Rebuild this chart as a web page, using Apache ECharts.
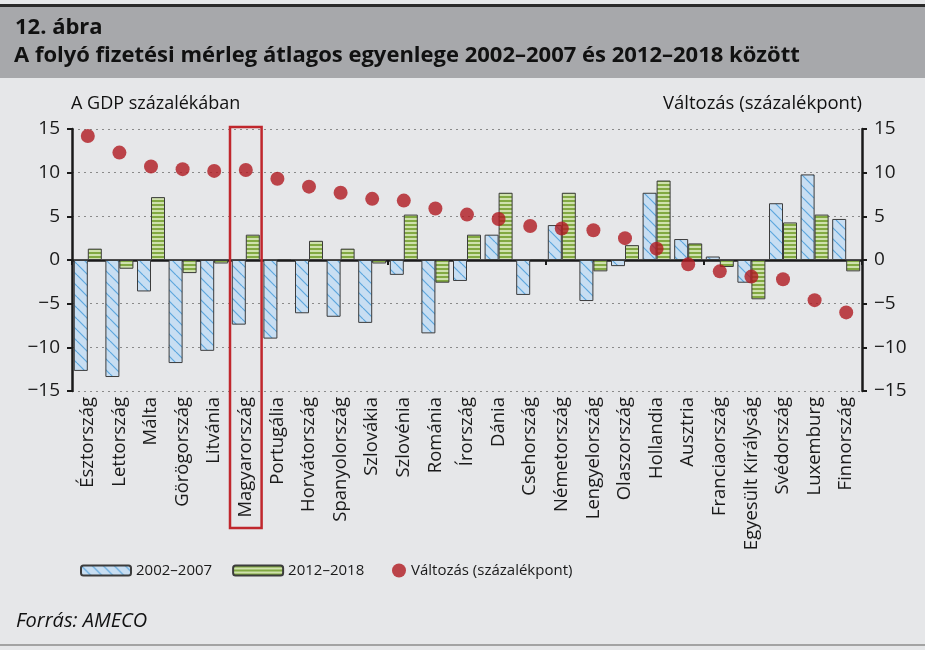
<!DOCTYPE html>
<html>
<head>
<meta charset="utf-8">
<script src="https://cdn.jsdelivr.net/npm/echarts@6/dist/echarts.min.js"></script>
<style>
  html, body { margin: 0; padding: 0; background: #e6e7e9; }
  #chart { width: 925px; height: 650px; }
</style>
</head>
<body>
<div id="chart"></div>
<script>
// országok (sorrend a változás szerint)
var countries = ['Észtország', 'Lettország', 'Málta', 'Görögország', 'Litvánia', 'Magyarország',
  'Portugália', 'Horvátország', 'Spanyolország', 'Szlovákia', 'Szlovénia', 'Románia', 'Írország',
  'Dánia', 'Csehország', 'Németország', 'Lengyelország', 'Olaszország', 'Hollandia', 'Ausztria',
  'Franciaország', 'Egyesült Királyság', 'Svédország', 'Luxemburg', 'Finnország'];

// a GDP százalékában
var avg2002_2007 = [-12.7, -13.4, -3.6, -11.8, -10.4, -7.4, -9.0, -6.1, -6.5, -7.2, -1.7, -8.4, -2.4,
  2.9, -4.0, 4.0, -4.7, -0.7, 7.7, 2.4, 0.4, -2.6, 6.5, 9.8, 4.7];
var avg2012_2018 = [1.3, -1.0, 7.2, -1.5, -0.4, 2.9, 0.1, 2.2, 1.3, -0.4, 5.2, -2.6, 2.9,
  7.7, 0.1, 7.7, -1.3, 1.7, 9.1, 1.9, -0.8, -4.5, 4.3, 5.2, -1.3];
// változás (százalékpont)
var change = [14.2, 12.3, 10.7, 10.4, 10.2, 10.3, 9.3, 8.4, 7.7, 7.0, 6.8, 5.9, 5.2,
  4.7, 3.9, 3.6, 3.4, 2.5, 1.3, -0.5, -1.3, -1.9, -2.2, -4.6, -6.0];

var highlighted = 'Magyarország';
var FONT = '"Open Sans", "Noto Sans", sans-serif';

function makePattern(w, h, draw) {
  var c = document.createElement('canvas');
  c.width = w; c.height = h;
  draw(c.getContext('2d'), w, h);
  return c;
}

var bluePattern = makePattern(11, 11, function (ctx, w, h) {
  ctx.fillStyle = '#c8def2';
  ctx.fillRect(0, 0, w, h);
  ctx.strokeStyle = '#5ca6dd';
  ctx.lineWidth = 1.2;
  [-w, 0, w].forEach(function (o) {
    ctx.beginPath();
    ctx.moveTo(o, 0);
    ctx.lineTo(o + w, h);
    ctx.stroke();
  });
});

var greenPattern = makePattern(4, 4, function (ctx, w, h) {
  ctx.fillStyle = '#cfe1ad';
  ctx.fillRect(0, 0, w, h);
  ctx.fillStyle = '#82a942';
  ctx.fillRect(0, 0, w, 2);
});

var myChart = echarts.init(document.getElementById('chart'));

function minusFmt(v) {
  return String(v).replace('-', '\u2212');
}

var option = {
  backgroundColor: '#e6e7e9',
  animation: false,
  textStyle: { fontFamily: FONT },
  grid: { left: 72, right: 63, top: 129, bottom: 259 },
  legend: [
    {
      data: ['2002–2007', '2012–2018'],
      left: 75, top: 558,
      itemWidth: 50, itemHeight: 10, itemGap: 20,
      textStyle: { fontSize: 15, color: '#1a1a1a', fontFamily: FONT }
    },
    {
      data: [{ name: 'Változás (százalékpont)', icon: 'circle' }],
      left: 387, top: 558,
      itemWidth: 14, itemHeight: 14,
      textStyle: { fontSize: 15, color: '#1a1a1a', fontFamily: FONT }
    }
  ],
  xAxis: [
    {
      type: 'category',
      data: countries,
      axisLine: { onZero: true, lineStyle: { color: '#1a1a1a', width: 2.5 } },
      axisTick: { show: true, length: 5, lineStyle: { color: '#1a1a1a', width: 2 } },
      axisLabel: { show: false }
    },
    {
      type: 'category',
      data: countries,
      position: 'bottom',
      axisLine: { show: false, onZero: false },
      axisTick: { show: false },
      axisLabel: { rotate: 90, margin: 6, fontSize: 18.5, color: '#1a1a1a', fontFamily: FONT, interval: 0 }
    }
  ],
  yAxis: [
    {
      type: 'value',
      min: -15, max: 15, interval: 5,
      axisLine: { show: true, lineStyle: { color: '#1a1a1a', width: 2.5 } },
      axisTick: { show: true, length: 5, lineStyle: { color: '#1a1a1a', width: 2 } },
      axisLabel: { fontSize: 19, color: '#1a1a1a', margin: 12, formatter: minusFmt },
      splitLine: { show: true, lineStyle: { color: '#8a8a8a', width: 1, type: [2, 4] } }
    },
    {
      type: 'value',
      min: -15, max: 15, interval: 5,
      position: 'right',
      axisLine: { show: true, lineStyle: { color: '#1a1a1a', width: 2.5 } },
      axisTick: { show: true, length: 5, lineStyle: { color: '#1a1a1a', width: 2 } },
      axisLabel: { fontSize: 19, color: '#1a1a1a', margin: 12, formatter: minusFmt },
      splitLine: { show: false }
    }
  ],
  series: [
    {
      name: '2002–2007',
      type: 'bar',
      data: avg2002_2007,
      barWidth: 14,
      barGap: '0%',
      itemStyle: { color: { image: bluePattern, repeat: 'repeat' }, borderColor: '#3c3c3c', borderWidth: 1 }
    },
    {
      name: '2012–2018',
      type: 'bar',
      data: avg2012_2018,
      barWidth: 14,
      barGap: '0%',
      itemStyle: { color: { image: greenPattern, repeat: 'repeat' }, borderColor: '#3c3c3c', borderWidth: 1 }
    },
    {
      name: 'Változás (százalékpont)',
      type: 'scatter',
      yAxisIndex: 1,
      data: change,
      symbolSize: 14,
      z: 5,
      itemStyle: { color: '#b01a20' }
    }
  ]
};

option && myChart.setOption(option);

// fejléc, tengelycímek, forrás, kiemelés
var idx = countries.indexOf(highlighted);
var cx = myChart.convertToPixel({ xAxisIndex: 0 }, idx);
var step = myChart.convertToPixel({ xAxisIndex: 0 }, idx + 1) - cx;
var yTop = myChart.convertToPixel({ yAxisIndex: 0 }, 15);

function label(text, x, y, font, align) {
  return {
    type: 'text', z: 10,
    style: { text: text, x: x, y: y, font: font, fill: '#111', align: align || 'left', verticalAlign: 'middle' }
  };
}

myChart.setOption({
  graphic: [
    { type: 'rect', shape: { x: 0, y: 7, width: 925, height: 71 }, style: { fill: '#a7a8ab' }, z: -1 },
    { type: 'rect', shape: { x: 0, y: 4, width: 925, height: 3 }, style: { fill: '#2a2a2a' }, z: -1 },
    { type: 'rect', shape: { x: 0, y: 644, width: 925, height: 2 }, style: { fill: '#a3a3a3' }, z: -1 },
    label('12. ábra', 15, 28, 'bold 22px ' + FONT),
    label('A folyó fizetési mérleg átlagos egyenlege 2002–2007 és 2012–2018 között', 14, 56, 'bold 22px ' + FONT),
    label('A GDP százalékában', 71, 104, '18px ' + FONT),
    label('Változás (százalékpont)', 862, 104, '18.5px ' + FONT, 'right'),
    label('Forrás: AMECO', 16, 621, 'italic 20px ' + FONT),
    {
      type: 'rect', z: 100,
      shape: { x: cx - step / 2, y: yTop - 2, width: step, height: 528 - yTop + 2 },
      style: { fill: 'none', stroke: '#c0272d', lineWidth: 2.5 }
    }
  ]
});
</script>
</body>
</html>
